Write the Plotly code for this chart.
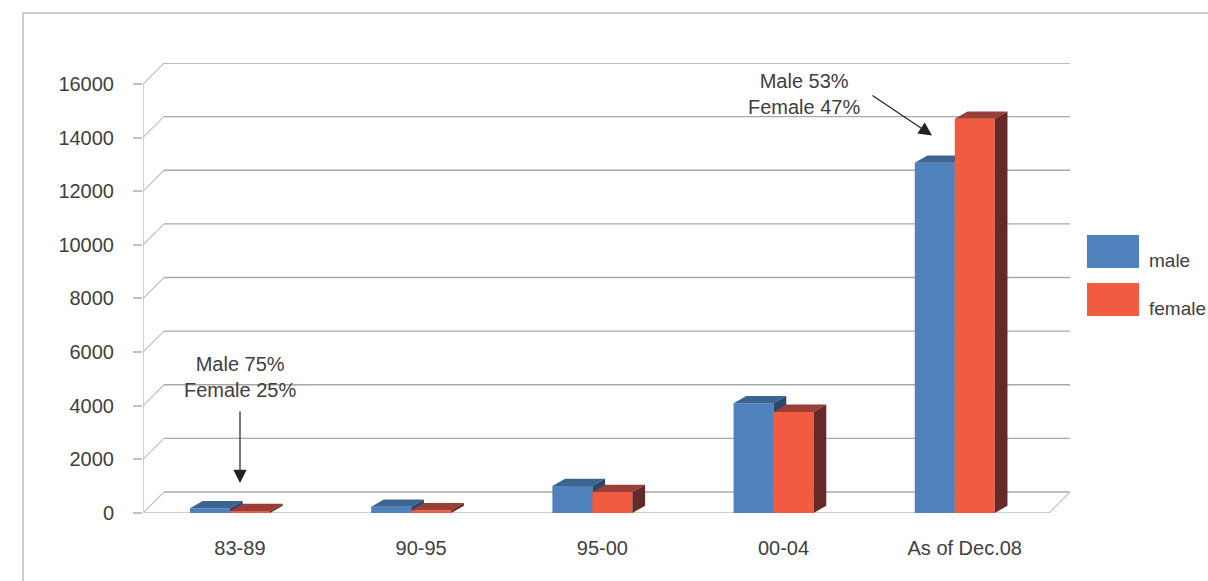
import plotly.graph_objects as go

# ---- data ----
periods = ["83-89", "90-95", "95-00", "00-04", "As of Dec.08"]
male = [180, 230, 1010, 4090, 13060]
female = [70, 100, 780, 3770, 14700]
y_ticks = [0, 2000, 4000, 6000, 8000, 10000, 12000, 14000, 16000]

# ---- geometry (category units on x, value units on y) ----
W, H = 1208, 581
ML, MR, MT, MB = 143, 138, 63, 68
PX_PER_CAT = 181.2
PX_PER_VAL = 429.5 / 16000.0

FLOOR_DX = 21 / PX_PER_CAT          # back-wall depth offset
FLOOR_DY = 21 / PX_PER_VAL
BAR_W = 40 / PX_PER_CAT              # front face width of one bar
BAR_DX = 12.7 / PX_PER_CAT           # bar depth offset
BAR_DY = 7.3 / PX_PER_VAL
PAIR_SHIFT = -0.02
LABEL_SHIFT = 0.035

x_lo, x_hi = -0.5, len(periods) - 0.5
XR = [x_lo, x_hi + FLOOR_DX]
YR = [0, y_ticks[-1] + FLOOR_DY]

MALE_FRONT, MALE_TOP, MALE_SIDE = "#4F81BD", "#3C6493", "#2B476B"
FEM_FRONT, FEM_TOP, FEM_SIDE = "#F15B40", "#9A3F38", "#632A28"
GRID = "#a8a8a8"
AXIS = "#c2c2c2"
TEXT = "#404040"
FONT = "Liberation Sans, Arial, sans-serif"
FS = 20


def faces(values, left_offset):
    """Top and side parallelograms for a row of bars."""
    tx, ty, sx, sy = [], [], [], []
    for i, v in enumerate(values):
        l = i + PAIR_SHIFT + left_offset
        r = l + BAR_W
        tx += [l, r, r + BAR_DX, l + BAR_DX, l, None]
        ty += [v, v, v + BAR_DY, v + BAR_DY, v, None]
        sx += [r, r, r + BAR_DX, r + BAR_DX, r, None]
        sy += [0, v, v + BAR_DY, BAR_DY, 0, None]
    return tx, ty, sx, sy


fig = go.Figure()
xs = [i + PAIR_SHIFT for i in range(len(periods))]

# male bars (base subplot)
fig.add_trace(go.Bar(x=xs, y=male, width=BAR_W, offset=-BAR_W, name="male",
                     marker=dict(color=MALE_FRONT, line=dict(width=0)),
                     xaxis="x", yaxis="y", showlegend=False))
tx, ty, sx, sy = faces(male, -BAR_W)
fig.add_trace(go.Scatter(x=tx, y=ty, fill="toself", fillcolor=MALE_TOP, mode="lines",
                         line=dict(width=0, color=MALE_TOP), hoverinfo="skip",
                         showlegend=False, xaxis="x", yaxis="y"))
fig.add_trace(go.Scatter(x=sx, y=sy, fill="toself", fillcolor=MALE_SIDE, mode="lines",
                         line=dict(width=0, color=MALE_SIDE), hoverinfo="skip",
                         showlegend=False, xaxis="x", yaxis="y"))

# female bars (overlay subplot so they sit in front of the male side faces)
fig.add_trace(go.Bar(x=xs, y=female, width=BAR_W, offset=0, name="female",
                     marker=dict(color=FEM_FRONT, line=dict(width=0)),
                     xaxis="x2", yaxis="y2", showlegend=False))
tx, ty, sx, sy = faces(female, 0)
fig.add_trace(go.Scatter(x=tx, y=ty, fill="toself", fillcolor=FEM_TOP, mode="lines",
                         line=dict(width=0, color=FEM_TOP), hoverinfo="skip",
                         showlegend=False, xaxis="x2", yaxis="y2"))
fig.add_trace(go.Scatter(x=sx, y=sy, fill="toself", fillcolor=FEM_SIDE, mode="lines",
                         line=dict(width=0, color=FEM_SIDE), hoverinfo="skip",
                         showlegend=False, xaxis="x2", yaxis="y2"))

shapes = []
# back wall gridlines and their diagonals to the front axis
for v in y_ticks:
    shapes.append(dict(type="line", xref="x", yref="y", layer="below",
                       x0=x_lo + FLOOR_DX, x1=x_hi + FLOOR_DX,
                       y0=v + FLOOR_DY, y1=v + FLOOR_DY,
                       line=dict(color=GRID, width=1.3)))
    shapes.append(dict(type="line", xref="x", yref="y", layer="below",
                       x0=x_lo, x1=x_lo + FLOOR_DX, y0=v, y1=v + FLOOR_DY,
                       line=dict(color=AXIS, width=1.2)))
# front value axis
shapes.append(dict(type="line", xref="x", yref="y", layer="below",
                   x0=x_lo, x1=x_lo, y0=0, y1=y_ticks[-1],
                   line=dict(color=AXIS, width=1.5)))
# floor front edge and right diagonal
shapes.append(dict(type="line", xref="x", yref="y", layer="below",
                   x0=x_lo, x1=x_hi, y0=0, y1=0, line=dict(color=AXIS, width=1.5)))
shapes.append(dict(type="line", xref="x", yref="y", layer="below",
                   x0=x_hi, x1=x_hi + FLOOR_DX, y0=0, y1=FLOOR_DY,
                   line=dict(color=AXIS, width=1.2)))
# category boundary ticks below the floor
tick_len = 9 / PX_PER_VAL
for b in range(len(periods) + 1):
    shapes.append(dict(type="line", xref="x", yref="y", layer="below",
                       x0=x_lo + b, x1=x_lo + b, y0=0, y1=-tick_len,
                       line=dict(color=AXIS, width=1.5)))

# outer frame
plot_w, plot_h = W - ML - MR, H - MT - MB
shapes.append(dict(type="rect", xref="paper", yref="paper", layer="below",
                   x0=(23 - ML) / plot_w, x1=1.5,
                   y0=-0.5, y1=(H - MB - 13) / plot_h,
                   line=dict(color="#cccccc", width=2), fillcolor="rgba(0,0,0,0)"))

# legend swatches
legend_items = [("male", MALE_FRONT, 235), ("female", FEM_FRONT, 283)]
annotations = []
for name, col, top in legend_items:
    shapes.append(dict(type="rect", xref="paper", yref="paper",
                       x0=(1087 - ML) / plot_w, x1=(1139 - ML) / plot_w,
                       y0=(H - MB - (top + 33)) / plot_h, y1=(H - MB - top) / plot_h,
                       line=dict(width=0), fillcolor=col))
    annotations.append(dict(xref="paper", yref="paper", x=(1147 - ML) / plot_w,
                            y=(H - MB - (top + 25)) / plot_h, xanchor="left",
                            yanchor="middle", text=name, showarrow=False,
                            font=dict(family=FONT, size=19, color=TEXT)))


def px_to_x(px):
    return x_lo + (px - ML) / PX_PER_CAT


def py_to_y(py):
    return (H - MB - py) / PX_PER_VAL


# callouts
annotations.append(dict(x=px_to_x(240), y=py_to_y(377), xref="x", yref="y",
                        text="Male 75%<br>Female 25%", showarrow=False,
                        font=dict(family=FONT, size=FS, color=TEXT)))
annotations.append(dict(x=px_to_x(240), y=py_to_y(483), xref="x", yref="y",
                        text="", showarrow=True, ax=0, ay=-73, arrowhead=2,
                        arrowsize=2.2, arrowwidth=1.2, arrowcolor="#222222"))
annotations.append(dict(x=px_to_x(804), y=py_to_y(94), xref="x", yref="y",
                        text="Male 53%<br>Female 47%", showarrow=False,
                        font=dict(family=FONT, size=FS, color=TEXT)))
annotations.append(dict(x=px_to_x(932), y=py_to_y(135), xref="x", yref="y",
                        text="", showarrow=True, ax=-61, ay=-41, arrowhead=2,
                        arrowsize=2.2, arrowwidth=1.2, arrowcolor="#222222"))

axis_common = dict(showgrid=False, zeroline=False, showline=False)
fig.update_layout(
    width=W, height=H, autosize=False,
    margin=dict(l=ML, r=MR, t=MT, b=MB, pad=0),
    paper_bgcolor="white", plot_bgcolor="white",
    showlegend=False,
    barmode="overlay",
    font=dict(family=FONT, size=FS, color=TEXT),
    xaxis=dict(range=XR, tickvals=[i + LABEL_SHIFT for i in range(len(periods))],
               ticktext=periods, ticks="", ticklabelstandoff=21,
               tickfont=dict(family=FONT, size=FS, color=TEXT), **axis_common),
    yaxis=dict(range=YR, tickvals=y_ticks, ticktext=[str(v) for v in y_ticks],
               ticks="outside", ticklen=9,
               tickcolor=AXIS, tickwidth=1.5, ticklabelstandoff=15,
               tickfont=dict(family=FONT, size=FS, color=TEXT), **axis_common),
    xaxis2=dict(range=XR, overlaying="x", visible=False, **axis_common),
    yaxis2=dict(range=YR, overlaying="y", visible=False, **axis_common),
    shapes=shapes,
    annotations=annotations,
)

fig.write_html("out.html")
